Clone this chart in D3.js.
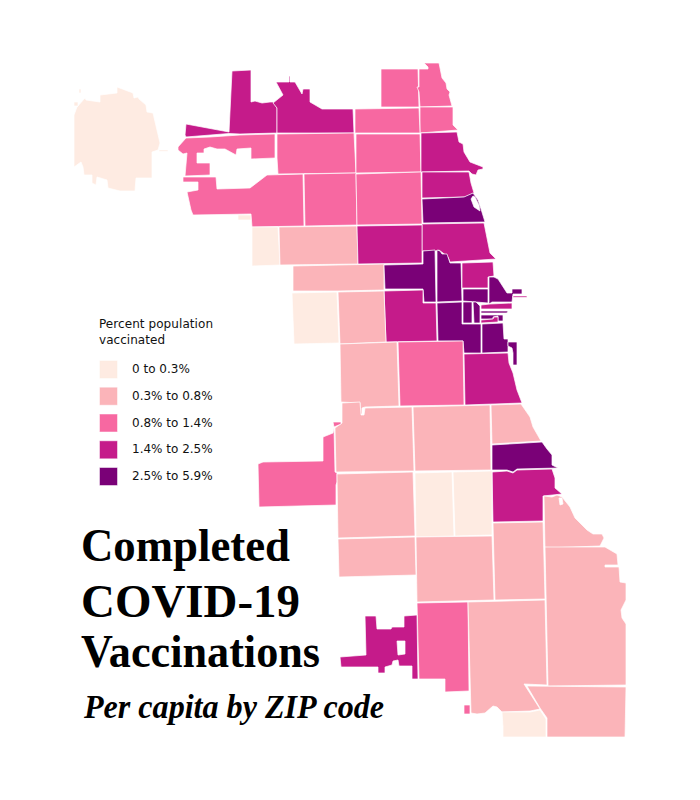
<!DOCTYPE html>
<html><head><meta charset="utf-8">
<script src="https://cdn.jsdelivr.net/npm/d3@7"></script>
<style>html,body{margin:0;background:#fff}svg{display:block}</style></head>
<body><svg id="c" width="700" height="800"></svg>
<script>
const binLabels=["0 to 0.3%","0.3% to 0.8%","0.8% to 1.4%","1.4% to 2.5%","2.5% to 5.9%"];
const binColors=["#feebe2","#fbb4b9","#f768a1","#c51b8a","#7a0177"];
const titleLines=["Completed","COVID-19","Vaccinations"];
const subtitle="Per capita by ZIP code";
const legendTitle=["Percent population","vaccinated"];
// Traced ZIP-area outlines in map units; each entry: class bin, then rings (later rings are holes or detached parts)
const zoneBins=[0,0,0,0,
 3,3,2,2,2,2,0,1,1,
 2,2,2,2,2,2,3,3,4,3,3,
 4,4,3,4,4,3,4,4,3,4,4,4,4,4,3,2,3,1,0,1,
 1,1,1,4,3,1,2,2,1,0,0,1,1,1,1,1,1,0,3];
const zoneRings=[
["74,115 77,107 85,98 86,100 100,102 100,95 117,93 117,87 133,93 134,98 138,97 139,99 146,105 147,112 153,113 160,143 158,150 152,152 152,178 136,178 135,191 120,191 108,188 107,180 97,177 96,185 92,183 92,175 84,175 83,167 81,162 74,167"],
["79,89 81,89 81,93 79,93","74,102 78,102 78,106 74,106"],
["159,150 168,150 168,151.5 159,151.5"],
["238,215 251,215 251,220 238,220"],
["232,71 251,70 251,102 255,101 262,103 270,102 273,102 277,108 277,133 240,134 229,133.5 186,137 185,135 186,124 229,132"],
["276,82 289,82 289,76 290,76 290,82 295,82 302,94 303,89 310,89 310,102 322,109 353,109 354,133 277,133 277,108 273,103 283,95"],
["186,138 210,137 240,135 275,134 275,158 251,159 251,148 237,149 236,155 225,149 217,149 210,147 204,149 204,153 197,153 197,163 210,163 210,175 185,176 187,153 183,154 178,150 178,147"],
["183,177 216,177 217,189 250,188 267,175 303,174 304,226 252,227 251,214 193,215 191,210 187,192 198,190 198,182 183,182"],
["277,134 354,133 356,173 278,174 277,158"],
["304,174 356,173 357,225 305,226"],
["252,227 278,227 280,265 252,266"],
["279,227 357,226 358,264 280,265"],
["293,266 384,264 384,290 338,291 293,291"],
["381,69 418,69 419,107 381,107"],
["424,63 439,63 442,78 446,83 447,89 450,92 449,95 452,106 420,107 419,92 417,87 419,87 419,69 428,69 428,67"],
["420,107 453,107 453,125 458,130 420,133"],
["355,109 419,108 420,133 355,133"],
["356,134 420,134 421,172 356,173"],
["356,174 421,172 422,224 357,225"],
["421,133 457,132 459,142 463,144 464,152 470,162 483,167 483,169 478,170 476,175 472,174 469,171 421,172"],
["422,172 469,172 471,183 474,193 465,197 422,198"],
["422,199 464,197 473,193 478,200 481,209 485,222 423,223","473,196 475,197 479,205 480,211 474,207 471,199"],
["422,224 484,223 487,238 490,253 496,259 450,262 448,257 443,253 439,250 436,251 422,251"],
["357,226 422,225 422,263 358,264"],
["384,265 423,264 423,251 435,250 436,302 424,302 423,289 385,289"],
["437,250 440,251 442,254 447,254 450,263 461,263 462,301 437,302"],
["462,263 493,262 494,276 488,277 488,288 462,288"],
["463,289 488,289 488,303 476,302 463,301"],
["489,277 494,277 498,279 507,293 512,293 512,289 522,289 522,294 513,294 512,302 492,302 489,304"],
["481,305 490,304 512,303 512,309 481,309","513,296 527,296 527,297.5 513,297.5"],
["481,311 508,311 507,313 481,313"],
["481,315 503,315 503,321 498,321 498,316 493,317 493,319 481,319"],
["481,320 493,319 494,317 498,317 498,322 481,323"],
["463,302 472,302 472,323 463,323"],
["473,302 476,302 480,306 480,323 474,323"],
["437,303 462,302 462,324 481,324 481,353 464,353 463,341 438,341"],
["482,324 503,323 504,339 508,339 508,352 482,353"],
["508,342 517,342 517,365 513,365 513,353 512,348 508,346"],
["384,291 423,290 423,303 436,303 437,341 386,342"],
["398,342 463,341 464,405 400,406"],
["464,354 508,353 509,363 513,373 517,390 522,403 465,405"],
["338,292 384,291 386,342 340,344"],
["292,293 337,292 339,343 294,344"],
["340,344 397,342 399,406 365,407 362,408 362,414 360,414 360,403 341,402"],
["342,403 360,402 361,415 364,415 365,408 412,407 414,471 336,472 335,428 342,423"],
["413,407 490,405 491,470 415,471"],
["491,405 521,404 530,417 533,427 541,441 492,444"],
["492,445 542,442 547,449 552,455 552,465 558,468 517,469 513,472 507,470 492,470"],
["492,472 507,471 513,473 517,470 552,469 555,478 555,488 562,494 543,496 543,521 493,522"],
["544,496 552,497 557,495 562,497 570,507 575,518 587,530 593,534 602,534 604,538 600,546 545,548","559,498 562,498 563,504 560,505"],
["258,464 263,462 323,461 323,437 333,433 334,428 335,472 337,473 337,482 336,485 336,505 259,507","333,422 341,422 341,424 334,427"],
["417,603 468,602 469,691 445,692 445,679 419,679","464,705 470,705 470,714 464,714"],
["337,474 413,472 415,536 338,538"],
["415,473 452,472 454,536 416,537"],
["453,472 492,471 492,535 455,536"],
["338,539 415,537 416,575 339,577"],
["416,537 492,536 494,600 417,602"],
["493,523 543,522 545,599 495,600"],
["545,547 605,547 617,554 618,565 605,565 605,567 619,567 620,582 626,583 626,600 621,610 622,618 626,624 626,685 548,686"],
["468,602 545,600 547,685 524,684 540,709 530,711 502,712 497,707 493,706 485,713 477,714 471,713"],
["527,686 626,687 625,737 547,737 547,718 540,708"],
["502,712 530,712 540,710 546,719 546,737 503,737 503,727"],
["365,616 376,616 377,629 391,629 392,627 404,627 404,616 417,615 418,679 412,679 412,666 399,666 398,660 393,661 392,665 385,667 385,673 378,673 378,667 341,667 340,657 366,655","397,641 405,641 405,654 398,655"]
];
const parseRing=s=>{const r=s.split(" ").map(p=>p.split(",").map(Number));r.push(r[0]);return r;};
const features=zoneRings.map((rings,i)=>({type:"Feature",properties:{bin:zoneBins[i]},geometry:{type:"Polygon",coordinates:rings.map(parseRing)}}));
const svg=d3.select("#c");
const color=d3.scaleOrdinal(d3.range(binColors.length),binColors);
const path=d3.geoPath(d3.geoIdentity());
svg.append("g").selectAll("path").data(features).join("path")
 .attr("d",path).attr("fill",d=>color(d.properties.bin)).attr("fill-rule","evenodd")
 .attr("stroke","#fff").attr("stroke-width",0.7).attr("stroke-linejoin","round");
const sans="'DejaVu Sans',sans-serif";
const lg=svg.append("g");
lg.selectAll("text.t").data(legendTitle).join("text").attr("class","t")
 .attr("x",99).attr("y",(d,i)=>328+i*16).attr("font-family",sans).attr("font-size",12).attr("textLength",(d,i)=>i?66:114).attr("fill","#111").text(d=>d);
const ly=d3.scalePoint().domain(d3.range(binLabels.length)).range([369,476]);
lg.selectAll("rect").data(binLabels).join("rect")
 .attr("x",100).attr("y",(d,i)=>ly(i)-8).attr("width",17).attr("height",17)
 .attr("fill",(d,i)=>color(i)).attr("stroke",(d,i)=>color(i)).attr("stroke-opacity",.5);
lg.selectAll("text.l").data(binLabels).join("text").attr("class","l")
 .attr("x",132).attr("y",(d,i)=>ly(i)+4).attr("font-family",sans).attr("font-size",12).attr("fill","#111").text(d=>d);
const serif="'Liberation Serif',serif";
const titleY=[561,617,667], titleW=[209,219,239];
svg.selectAll("text.h").data(titleLines).join("text").attr("class","h")
 .attr("x",81).attr("y",(d,i)=>titleY[i]).attr("font-family",serif).attr("font-weight",700).attr("font-size",47)
 .attr("textLength",(d,i)=>titleW[i]).attr("lengthAdjust","spacingAndGlyphs").attr("fill","#000").text(d=>d);
svg.append("text").attr("x",84).attr("y",718).attr("font-family",serif).attr("font-style","italic").attr("font-weight",700)
 .attr("font-size",33).attr("textLength",300).attr("lengthAdjust","spacingAndGlyphs").attr("fill","#000").text(subtitle);
</script></body></html>
